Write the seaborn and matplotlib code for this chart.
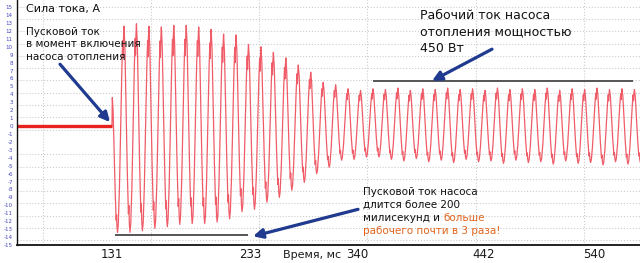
import numpy as np
import matplotlib
matplotlib.use("Agg")
import matplotlib.pyplot as plt
from matplotlib.ticker import MultipleLocator
import seaborn as sns

# Measured values (time in ms, current in A)
start_ms = 131.0          # pump switched on
spike_amp = 3.6           # first small spike at switch-on
period_ms = 10.565        # one cycle of the trace
first_trough_ms = 135.7

peaks = [12.6, 12.9, 12.6, 12.5, 12.7, 12.7, 12.5, 12.2, 11.6, 11.5,
         10.3, 10.0, 9.3, 8.6, 7.7, 6.8, 5.5, 5.2, 4.7, 4.5,
         4.7, 4.6, 4.8, 4.5, 4.7, 4.6, 4.8, 4.6, 4.7, 4.5, 4.8,
         4.6, 4.7, 4.6, 4.8, 4.5, 4.7, 4.6, 4.8, 4.6, 4.7, 4.6]
troughs = [-13.4, -13.4, -13.2, -12.9, -12.7, -12.4, -12.3, -12.3, -12.1, -11.7,
           -10.8, -10.5, -9.6, -9.0, -8.1, -7.1, -6.0, -5.2, -4.3, -4.2, -3.9, -3.9,
           -4.2, -4.4, -4.1, -4.5, -4.3, -4.6, -4.2, -4.5, -4.4, -4.7, -4.3,
           -4.6, -4.5, -4.8, -4.4, -4.7, -4.6, -4.9, -4.5, -4.8, -4.6]

xtick_pos = [131, 248, 339, 446, 540]
xtick_labels = ["131", "233", "340", "442", "540"]
ref_start = [133.5, 246.4, -13.7]   # start-current level line
ref_work = [352.5, 573.0, 5.7]      # working-current level line

# shape of one half cycle (with the little notch near the top / bottom)
rise_ph = [0.0, 0.12, 0.3, 0.5, 0.68, 0.8, 0.86, 0.92, 1.0]
rise_f = [0.0, 0.04, 0.22, 0.52, 0.8, 0.93, 0.85, 0.94, 1.0]
fall_ph = [0.0, 0.15, 0.35, 0.55, 0.74, 0.82, 0.9, 1.0]
fall_f = [1.0, 0.9, 0.6, 0.3, 0.09, 0.13, 0.04, 0.0]


def build_trace():
    xs = [start_ms, start_ms + 0.3]
    ys = [0.0, spike_amp]
    prev_t, prev_v = xs[-1], ys[-1]
    for k in range(len(troughs)):
        t_tr = first_trough_ms + k * period_ms
        for p, f in zip(fall_ph[1:], fall_f[1:]):
            xs.append(prev_t + (t_tr - prev_t) * p)
            ys.append(troughs[k] + (prev_v - troughs[k]) * f)
        if k >= len(peaks):
            break
        t_pk = t_tr + period_ms * 0.52
        for p, f in zip(rise_ph[1:], rise_f[1:]):
            xs.append(t_tr + (t_pk - t_tr) * p)
            ys.append(troughs[k] + (peaks[k] - troughs[k]) * f)
        prev_t, prev_v = t_pk, peaks[k]
    return np.array(xs), np.array(ys)


sns.set_theme(style="white")
plt.rcParams["font.family"] = ["DejaVu Sans"]
plt.rcParams["axes.unicode_minus"] = False

fig = plt.figure(figsize=(6.4, 2.63), dpi=100)
ax = fig.add_axes([17 / 640, 18 / 263, 623 / 640, 245 / 263])

tx, ty = build_trace()
sns.lineplot(x=tx, y=ty, ax=ax, color="#ef5c68", linewidth=0.9,
             estimator=None, sort=False)
ax.plot([50.4, start_ms], [0, 0], color="#e8231f", linewidth=2.4,
        solid_capstyle="butt")

ax.hlines(ref_start[2], ref_start[0], ref_start[1], color="#3a3a3a", lw=1.2)
ax.hlines(ref_work[2], ref_work[0], ref_work[1], color="#3a3a3a", lw=1.2)

ax.set_xlim(50.4, 579.1)
ax.set_ylim(-15, 15.9)

ax.set_yticks(np.arange(-15, 16, 1))
ax.tick_params(axis="y", labelsize=4, labelcolor="#4646c0", length=0, pad=3)
ax.set_xticks(xtick_pos)
ax.set_xticklabels(xtick_labels)
ax.tick_params(axis="x", labelsize=8.5, labelcolor="#1a1a1a", length=0, pad=2)

ax.xaxis.set_minor_locator(MultipleLocator(91.8, offset=72.4))
ax.yaxis.set_minor_locator(MultipleLocator(1.55, offset=1.1))
ax.grid(False)
ax.grid(which="minor", color="#cccccc", linestyle=":", linewidth=0.8)
ax.tick_params(which="minor", length=0)

for s in ["top", "right"]:
    ax.spines[s].set_visible(False)
ax.spines["left"].set_color("#111111")
ax.spines["left"].set_linewidth(1.0)
ax.spines["bottom"].set_color("#111111")
ax.spines["bottom"].set_linewidth(1.3)

ax.text(276, -16.3, "Время, мс", fontsize=8, color="#1a1a1a",
        va="center", ha="left", clip_on=False)

ax.text(58, 15.4, "Сила тока, А", fontsize=8, color="#111111", va="top")
ax.text(58, 12.5, "Пусковой ток\nв момент включения\nнасоса отопления",
        fontsize=7.5, color="#111111", va="top", linespacing=1.3)
ax.text(392, 14.8, "Рабочий ток насоса\nотопления мощностью\n450 Вт",
        fontsize=9, color="#111111", va="top", linespacing=1.35)

t1 = ax.text(344, -7.7, "Пусковой ток насоса\nдлится более 200",
             fontsize=7.5, color="#111111", va="top", linespacing=1.3)
t2 = ax.annotate("милисекунд и ", xy=(0, 0), xycoords=t1,
                 xytext=(0, -2.5), textcoords="offset points",
                 fontsize=7.5, color="#111111", va="top", ha="left")
ax.annotate("больше", xy=(1, 0), xycoords=t2, fontsize=7.5,
            color="#e2661e", va="bottom", ha="left")
ax.annotate("рабочего почти в 3 раза!", xy=(0, 0), xycoords=t2,
            xytext=(0, -2.5), textcoords="offset points",
            fontsize=7.5, color="#e2661e", va="top", ha="left")

arrow = dict(arrowstyle="-|>", color="#1f3a8e", lw=2.3, mutation_scale=14,
             shrinkA=0, shrinkB=0)
ax.annotate("", xy=(129.3, 0.5), xytext=(86.9, 7.8), arrowprops=arrow)
ax.annotate("", xy=(402.6, 5.7), xytext=(453.5, 9.7), arrowprops=arrow)
ax.annotate("", xy=(250.7, -13.9), xytext=(339.8, -10.5), arrowprops=arrow)

fig.savefig("out.png", dpi=100, facecolor="white")
